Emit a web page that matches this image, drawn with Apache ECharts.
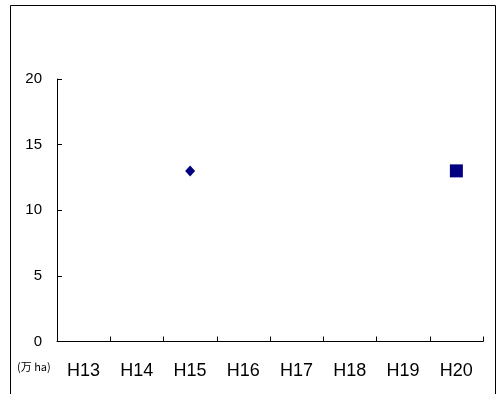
<!DOCTYPE html>
<html>
<head>
<meta charset="utf-8">
<script src="https://cdn.jsdelivr.net/npm/echarts@6/dist/echarts.min.js"></script>
<style>
  html, body { margin: 0; padding: 0; background: #fff; }
  #chart { width: 504px; height: 394px; }
</style>
</head>
<body>
<div id="chart"></div>
<script>
// Fiscal years (Heisei)
const categories = ['H13', 'H14', 'H15', 'H16', 'H17', 'H18', 'H19', 'H20'];
// Area, 10,000 ha
const diamondValues = [null, null, 13.0, null, null, null, null, null];
const squareValues = [null, null, null, null, null, null, null, 13.0];
const yTicks = [0, 5, 10, 15, 20];
const unitLabel = '(万 ha)';

const chart = echarts.init(document.getElementById('chart'), null, { renderer: 'canvas' });

const labelFont = 'Liberation Sans, Arial, sans-serif';

const option = {
  backgroundColor: '#fff',
  animation: false,
  grid: { left: 57, right: 21, top: 79, bottom: 52.5 },
  xAxis: {
    type: 'category',
    data: categories,
    boundaryGap: true,
    axisLine: { lineStyle: { color: '#000', width: 1 } },
    axisTick: { show: true, inside: true, length: 5, lineStyle: { color: '#000' } },
    axisLabel: { color: '#000', fontSize: 18, fontFamily: labelFont, margin: 21 },
    splitLine: { show: false }
  },
  yAxis: {
    type: 'value',
    min: yTicks[0],
    max: yTicks[yTicks.length - 1],
    interval: 5,
    axisLine: { show: true, lineStyle: { color: '#000', width: 1 } },
    axisTick: { show: true, inside: true, length: 5, lineStyle: { color: '#000' } },
    axisLabel: { color: '#000', fontSize: 15, fontFamily: labelFont, margin: 15 },
    splitLine: { show: false }
  },
  graphic: [
    {
      type: 'rect',
      shape: { x: 10.5, y: 5.5, width: 485, height: 400 },
      style: { fill: 'none', stroke: '#000', lineWidth: 1 },
      silent: true,
      z: -1
    },
    {
      type: 'text',
      left: 17,
      top: 361,
      style: { text: unitLabel, fill: '#000', font: '11px "Noto Sans CJK JP", sans-serif' }
    }
  ],
  series: [
    {
      type: 'scatter',
      data: diamondValues,
      symbol: 'diamond',
      symbolSize: [10, 11],
      itemStyle: { color: '#000080', opacity: 1 }
    },
    {
      type: 'scatter',
      data: squareValues,
      symbol: 'rect',
      symbolSize: 13,
      itemStyle: { color: '#000080', opacity: 1 }
    }
  ]
};

chart.setOption(option);
</script>
</body>
</html>
